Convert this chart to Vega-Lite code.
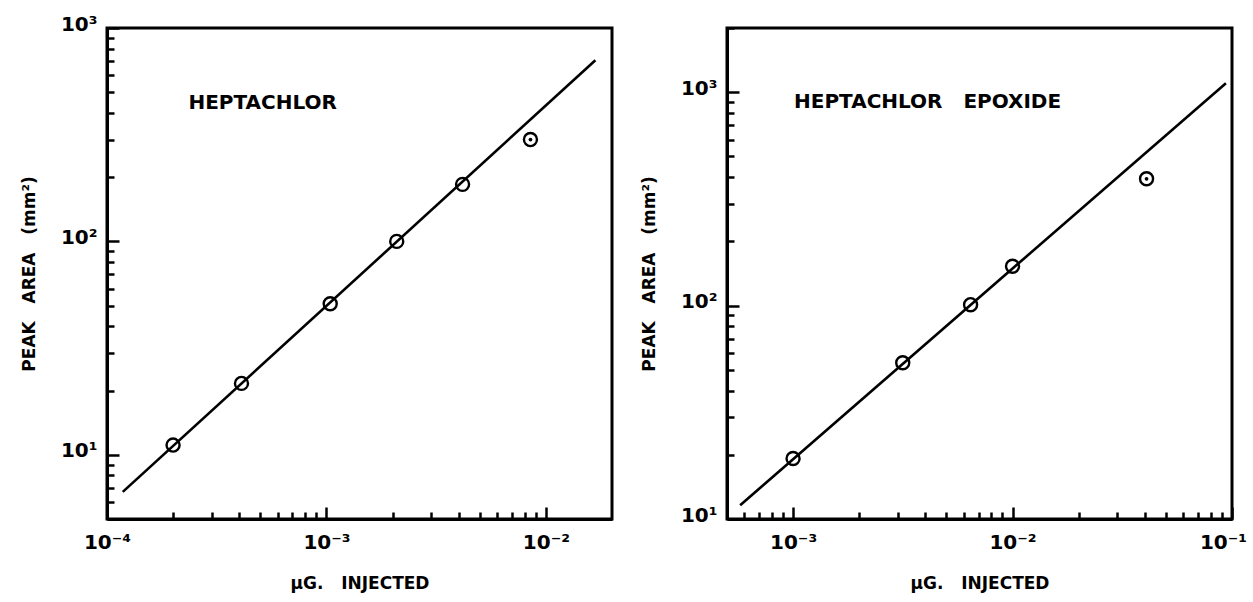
{
  "$schema": "https://vega.github.io/schema/vega-lite/v6.json",
  "background": "white",
  "padding": {"left": 18, "top": 12, "right": 0, "bottom": 5},
  "spacing": 24,
  "config": {
    "view": {"stroke": "black", "strokeWidth": 3},
    "font": "DejaVu Sans",
    "axis": {
      "grid": false,
      "domainColor": "black",
      "domainWidth": 3,
      "tickColor": "black",
      "tickWidth": 2.5,
      "tickSize": {"condition": {"test": "abs(log(datum.value)/LN10 - round(log(datum.value)/LN10)) < 0.001", "value": -12}, "value": -7},
      "labelFont": "DejaVu Sans",
      "labelFontSize": 20,
      "labelFontWeight": "bold",
      "labelColor": "black",
      "labelFlush": false,
      "labelOverlap": false,
      "titleFont": "DejaVu Sans",
      "titleFontSize": 17,
      "titleFontWeight": "bold",
      "titleColor": "black"
    },
    "axisX": {"labelPadding": 25, "titlePadding": 18},
    "axisY": {"labelPadding": 22, "titlePadding": 22, "labelOffset": -4}
  },
  "hconcat": [
    {
      "width": 505,
      "height": 491,
      "data": {"values": [
        {"kind": "fit", "x": 0.000118, "y": 6.7},
        {"kind": "fit", "x": 0.0168, "y": 706},
        {"kind": "obs", "x": 0.0002, "y": 11.1, "dot": false},
        {"kind": "obs", "x": 0.00041, "y": 21.6, "dot": false},
        {"kind": "obs", "x": 0.00104, "y": 51, "dot": false},
        {"kind": "obs", "x": 0.00209, "y": 100, "dot": false},
        {"kind": "obs", "x": 0.00417, "y": 185, "dot": false},
        {"kind": "obs", "x": 0.0085, "y": 300, "dot": true},
        {"kind": "label", "x": 0.000235, "y": 444, "label": "HEPTACHLOR"}
      ]},
      "encoding": {
        "x": {"field": "x", "type": "quantitative",
          "scale": {"type": "log", "domain": [0.0001, 0.02], "nice": false},
          "axis": {
            "title": "µG.\u00a0\u00a0\u00a0INJECTED",
            "values": [0.0001, 0.0002, 0.0003, 0.0004, 0.0005, 0.0006, 0.0007, 0.0008, 0.0009, 0.001, 0.002, 0.003, 0.004, 0.005, 0.006, 0.007, 0.008, 0.009, 0.01],
            "labelExpr": "abs(datum.value-0.0001)<1e-9 ? '10⁻⁴' : abs(datum.value-0.001)<1e-9 ? '10⁻³' : abs(datum.value-0.01)<1e-9 ? '10⁻²' : ''"
          }},
        "y": {"field": "y", "type": "quantitative",
          "scale": {"type": "log", "domain": [5, 1000], "nice": false},
          "axis": {
            "title": "PEAK\u00a0\u00a0\u00a0AREA\u00a0\u00a0\u00a0(mm²)",
            "values": [5, 6, 7, 8, 9, 10, 20, 30, 40, 50, 60, 70, 80, 90, 100, 200, 300, 400, 500, 600, 700, 800, 900, 1000],
            "labelExpr": "datum.value==10 ? '10¹' : datum.value==100 ? '10²' : datum.value==1000 ? '10³' : ''"
          }}
      },
      "layer": [
        {"transform": [{"filter": "datum.kind==='fit'"}],
         "mark": {"type": "line", "color": "black", "strokeWidth": 2.6}},
        {"transform": [{"filter": "datum.kind==='obs'"}],
         "mark": {"type": "point", "shape": "circle", "size": 170, "filled": false, "color": "black", "strokeWidth": 2.4, "opacity": 1}},
        {"transform": [{"filter": "datum.kind==='obs' && datum.dot"}],
         "mark": {"type": "point", "shape": "circle", "size": 14, "filled": true, "color": "black", "opacity": 1}},
        {"transform": [{"filter": "datum.kind==='label'"}],
         "mark": {"type": "text", "align": "left", "baseline": "middle", "font": "DejaVu Sans", "fontSize": 20, "fontWeight": "bold", "color": "black"},
         "encoding": {"text": {"field": "label"}}}
      ]
    },
    {
      "width": 505,
      "height": 491,
      "data": {"values": [
        {"kind": "fit", "x": 0.000574, "y": 11.6},
        {"kind": "fit", "x": 0.0938, "y": 1103},
        {"kind": "obs", "x": 0.001, "y": 19.2, "dot": false},
        {"kind": "obs", "x": 0.00316, "y": 54, "dot": false},
        {"kind": "obs", "x": 0.00644, "y": 101, "dot": false},
        {"kind": "obs", "x": 0.01, "y": 153, "dot": false},
        {"kind": "obs", "x": 0.0408, "y": 393, "dot": true},
        {"kind": "label", "x": 0.00101, "y": 897, "label": "HEPTACHLOR\u00a0\u00a0\u00a0EPOXIDE"}
      ]},
      "encoding": {
        "x": {"field": "x", "type": "quantitative",
          "scale": {"type": "log", "domain": [0.0005, 0.1], "nice": false},
          "axis": {
            "title": "µG.\u00a0\u00a0\u00a0INJECTED",
            "values": [0.0006, 0.0007, 0.0008, 0.0009, 0.001, 0.002, 0.003, 0.004, 0.005, 0.006, 0.007, 0.008, 0.009, 0.01, 0.02, 0.03, 0.04, 0.05, 0.06, 0.07, 0.08, 0.09, 0.1],
            "labelOffset": {"condition": {"test": "datum.value > 0.095", "value": -9}, "value": 0},
            "labelExpr": "abs(datum.value-0.001)<1e-9 ? '10⁻³' : abs(datum.value-0.01)<1e-9 ? '10⁻²' : abs(datum.value-0.1)<1e-9 ? '10⁻¹' : ''"
          }},
        "y": {"field": "y", "type": "quantitative",
          "scale": {"type": "log", "domain": [10, 2000], "nice": false},
          "axis": {
            "title": "PEAK\u00a0\u00a0\u00a0AREA\u00a0\u00a0\u00a0(mm²)",
            "values": [10, 20, 30, 40, 50, 60, 70, 80, 90, 100, 200, 300, 400, 500, 600, 700, 800, 900, 1000, 2000],
            "labelExpr": "datum.value==10 ? '10¹' : datum.value==100 ? '10²' : datum.value==1000 ? '10³' : ''"
          }}
      },
      "layer": [
        {"transform": [{"filter": "datum.kind==='fit'"}],
         "mark": {"type": "line", "color": "black", "strokeWidth": 2.6}},
        {"transform": [{"filter": "datum.kind==='obs'"}],
         "mark": {"type": "point", "shape": "circle", "size": 170, "filled": false, "color": "black", "strokeWidth": 2.4, "opacity": 1}},
        {"transform": [{"filter": "datum.kind==='obs' && datum.dot"}],
         "mark": {"type": "point", "shape": "circle", "size": 14, "filled": true, "color": "black", "opacity": 1}},
        {"transform": [{"filter": "datum.kind==='label'"}],
         "mark": {"type": "text", "align": "left", "baseline": "middle", "font": "DejaVu Sans", "fontSize": 20, "fontWeight": "bold", "color": "black"},
         "encoding": {"text": {"field": "label"}}}
      ]
    }
  ]
}
